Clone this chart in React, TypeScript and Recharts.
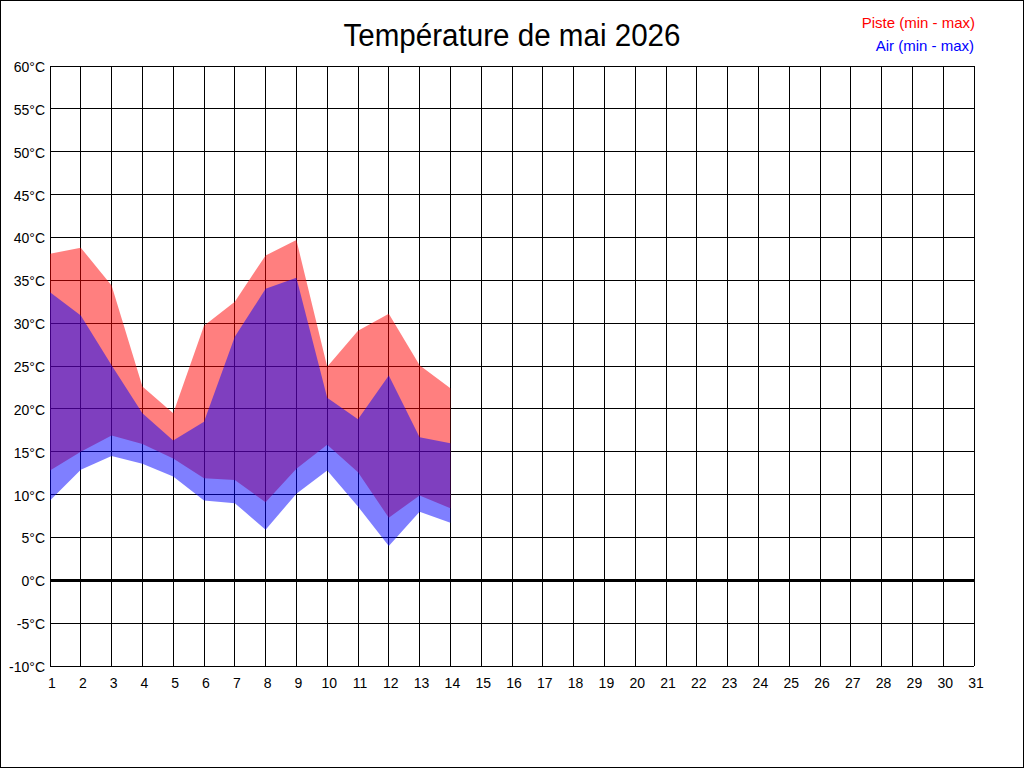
import { ComposedChart, Area, XAxis, YAxis, CartesianGrid, ReferenceLine } from 'recharts';

// days of May 2026 with readings
const days = [1, 2, 3, 4, 5, 6, 7, 8, 9, 10, 11, 12, 13, 14];
const pisteMin = [12.8, 15.0, 16.9, 15.9, 14.2, 11.9, 11.7, 9.1, 13.0, 15.8, 12.6, 7.3, 9.9, 8.4];
const pisteMax = [38.1, 38.8, 34.4, 22.6, 19.5, 29.7, 32.5, 37.9, 39.7, 24.9, 29.1, 31.1, 25.1, 22.4];
const airMin = [9.3, 12.9, 14.5, 13.6, 12.1, 9.3, 9.0, 5.9, 10.1, 12.8, 8.6, 4.0, 8.0, 6.7];
const airMax = [33.6, 30.9, 25.1, 19.5, 16.3, 18.5, 28.4, 34.0, 35.3, 21.3, 18.8, 23.9, 16.7, 16.0];

const xTicks = Array.from({ length: 31 }, (_, i) => i + 1);
const yTicks = [-10, -5, 0, 5, 10, 15, 20, 25, 30, 35, 40, 45, 50, 55, 60];

const FONT = '"Liberation Sans", Arial, sans-serif';

const data = days.map((day, i) => ({
  day,
  piste: [pisteMin[i], pisteMax[i]],
  air: [airMin[i], airMax[i]],
}));

export default function App() {
  return (
    <div
      style={{
        position: 'fixed',
        left: 0,
        top: 0,
        width: 1024,
        height: 768,
        boxSizing: 'border-box',
        border: '1px solid #000',
        background: '#fff',
        fontFamily: FONT,
      }}
    >
      <div style={{ position: 'absolute', left: -1, top: -1 }}>
        <ComposedChart
          width={1024}
          height={768}
          data={data}
          margin={{ top: 66, right: 50, left: 0, bottom: 72 }}
        >
          <CartesianGrid stroke="#000" strokeWidth={1} strokeOpacity={1} shapeRendering="crispEdges" />
          <XAxis
            dataKey="day"
            type="number"
            domain={[1, 31]}
            ticks={xTicks}
            interval={0}
            height={30}
            axisLine={false}
            tickLine={false}
            tickSize={0}
            tickMargin={12}
            tick={{ fill: '#000', fontSize: 14, fontFamily: FONT, dx: 2 }}
          />
          <YAxis
            type="number"
            domain={[-10, 60]}
            ticks={yTicks}
            interval={0}
            width={50}
            axisLine={false}
            tickLine={false}
            tickSize={0}
            tickMargin={5}
            tickFormatter={(v) => `${v}°C`}
            tick={{ fill: '#000', fontSize: 14, fontFamily: FONT, dy: 1 }}
          />
          <Area
            dataKey="piste"
            type="linear"
            fill="#ff0000"
            fillOpacity={0.5}
            stroke="none"
            isAnimationActive={false}
            dot={false}
            activeDot={false}
          />
          <Area
            dataKey="air"
            type="linear"
            fill="#0000ff"
            fillOpacity={0.5}
            stroke="none"
            isAnimationActive={false}
            dot={false}
            activeDot={false}
          />
          <ReferenceLine y={0} stroke="#000" strokeWidth={3} shapeRendering="crispEdges" />
        </ComposedChart>
      </div>
      <svg
        width={1024}
        height={768}
        style={{ position: 'absolute', left: -1, top: -1, pointerEvents: 'none' }}
      >
        <text x={512} y={46} textAnchor="middle" fontSize={31} fontFamily={FONT} fill="#000" textLength={337} lengthAdjust="spacingAndGlyphs">
          Température de mai 2026
        </text>
        <text x={975} y={28} textAnchor="end" fontSize={15} fontFamily={FONT} fill="#ff0000">
          Piste (min - max)
        </text>
        <text x={974} y={51} textAnchor="end" fontSize={15} fontFamily={FONT} fill="#0000ff">
          Air (min - max)
        </text>
      </svg>
    </div>
  );
}
